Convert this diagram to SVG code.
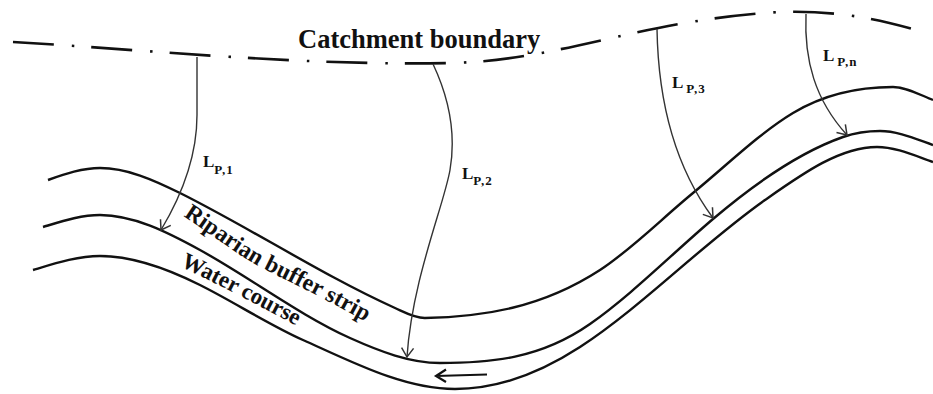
<svg xmlns="http://www.w3.org/2000/svg" width="933" height="394" viewBox="0 0 933 394">
<style>
.bnd{fill:none;stroke:#111;stroke-width:2.6;stroke-dasharray:41 18 2.5 17}
.bank{fill:none;stroke:#111;stroke-width:2.4}
.conn{fill:none;stroke:#333;stroke-width:1.4;marker-end:url(#ah)}
.lbl{font-family:"Liberation Serif","Times New Roman",serif;font-weight:bold;font-size:17px;fill:#111}
.sub{font-size:13px;letter-spacing:1px}
.big{font-family:"Liberation Serif","Times New Roman",serif;font-weight:bold;font-size:23px;fill:#111}
</style>
<defs>
<marker id="ah" markerUnits="userSpaceOnUse" markerWidth="20" markerHeight="20" refX="0" refY="0" viewBox="-10 -10 20 20" orient="auto">
<path d="M-9,-6 L0,0 L-9,6" fill="none" stroke="#333" stroke-width="1.5"/>
</marker>
<path id="rp" d="M183,216 C215,237 240,257 268,271 C300,287 330,301 380,330"/>
<path id="wc" d="M180,266 C230,290 270,312 320,338"/>
</defs>
<rect width="933" height="394" fill="#fff"/>
<g id="catchment-boundary">
<path class="bnd" d="M13,42 C150,50 300,66 450,63 C560,61 640,20 780,12 C840,10 880,20 920,31"/>
<text class="big" x="298" y="48" style="font-size:26.5px">Catchment boundary</text>
</g>
<g id="riparian-buffer-strip">
<path class="bank" d="M48,180 C65.3,173.9 82.7,168 100,168 C126.7,168 153.3,179.7 180,193 C251.7,228.8 323.3,275.7 395,308 C405,312.5 415,318.2 425,318 C483.3,316.8 541.7,307.9 600,270 C631,249.9 662,218.4 693,193 C726.3,165.7 759.7,133 793,113 C826.3,93 859.7,87 893,87 C906.3,87 919.7,94.7 933,100"/>
<text class="big" style="font-size:23.5px"><textPath href="#rp">Riparian buffer strip</textPath></text>
</g>
<g id="water-course">
<path class="bank" d="M43,227 C62,221.3 81,215 100,215 C133.3,215 166.7,231.7 200,250 C250,277.5 300,315.5 350,338 C380,351.5 410,363 440,363 C490,363 540,359 590,324 C631,295.3 672,253.9 713,219 C756.3,182.2 799.7,152.2 843,137 C855.3,132.7 867.7,131 880,131 C897.7,131 915.3,138.8 933,145"/>
<path class="bank" d="M33,270 C55.3,263.3 77.7,256 100,256 C133.3,256 166.7,268.3 200,285 C234.3,302.2 268.7,324.6 303,340 C353.7,362.8 404.3,389 455,389 C496.7,389 538.3,374.1 580,347 C641.7,306.9 703.3,243.2 765,200 C802.3,173.9 839.7,147 877,147 C895.7,147 914.3,155.5 933,162"/>
<text class="big"><textPath href="#wc">Water course</textPath></text>
<path d="M487,374.5 L436,376 M446,369.5 L436,376 L446,382" fill="none" stroke="#111" stroke-width="2.2"/>
</g>
<g id="connectors">
<path class="conn" d="M197,57 L197,115 C197,150 185,190 161,230"/>
<path class="conn" d="M433,64 C450,100 456,135 450,170 S412,280 407,357"/>
<path class="conn" d="M657,29 C658,90 670,160 713,218"/>
<path class="conn" d="M806,14 C804,60 815,100 847,135"/>
</g>
<g id="labels">
<text class="lbl" x="203" y="167">L<tspan class="sub" dy="7">P,1</tspan></text>
<text class="lbl" x="462" y="179">L<tspan class="sub" dy="6">P,2</tspan></text>
<text class="lbl" x="672" y="88">L<tspan class="sub" dx="3" dy="5">P,3</tspan></text>
<text class="lbl" x="823" y="61">L<tspan class="sub" dx="3" dy="5">P,n</tspan></text>
</g>
</svg>
